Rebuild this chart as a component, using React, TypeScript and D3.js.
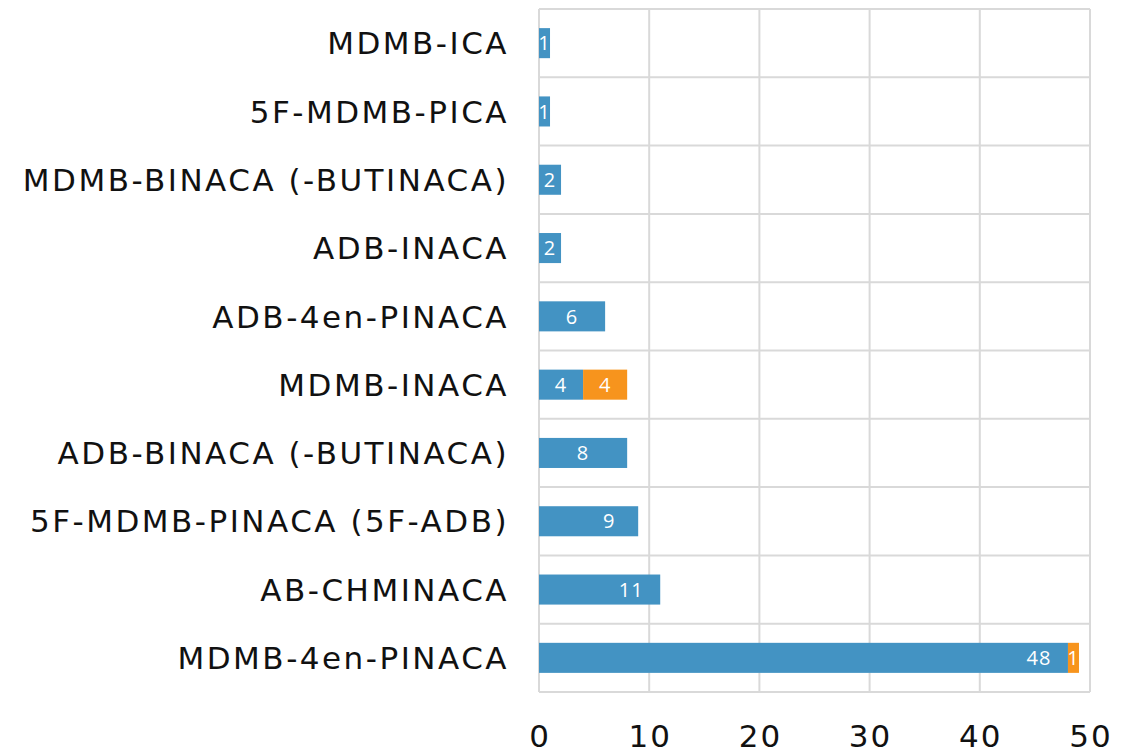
import React, { useRef, useEffect } from 'react';
import * as d3 from 'd3';

const categories = [
  'MDMB-ICA',
  '5F-MDMB-PICA',
  'MDMB-BINACA (-BUTINACA)',
  'ADB-INACA',
  'ADB-4en-PINACA',
  'MDMB-INACA',
  'ADB-BINACA (-BUTINACA)',
  '5F-MDMB-PINACA (5F-ADB)',
  'AB-CHMINACA',
  'MDMB-4en-PINACA',
];
const blueValues = [1, 1, 2, 2, 6, 4, 8, 9, 11, 48];
const orangeValues = [0, 0, 0, 0, 0, 4, 0, 0, 0, 1];
const xTicks = [0, 10, 20, 30, 40, 50];

const width = 1140;
const height = 755;
const labelFont = "'DejaVu Sans', sans-serif";
const valueFont = "'Open Sans', sans-serif";

const App: React.FC = () => {
  const svgRef = useRef<SVGSVGElement | null>(null);

  useEffect(() => {
    const svg = d3.select(svgRef.current);
    svg.selectAll('*').remove();

    const margin = { top: 9, right: 50, bottom: 63, left: 539 };
    const x = d3.scaleLinear().domain([0, 50]).range([margin.left, width - margin.right]);
    const y = d3.scaleBand<string>()
      .domain(categories)
      .range([margin.top, height - margin.bottom])
      .paddingInner(0.56)
      .paddingOuter(0.28);
    const step = y.step();
    const grid = '#d9d9d9';

    const g = svg.append('g');

    // vertical grid
    g.selectAll('line.vg')
      .data(xTicks)
      .enter()
      .append('line')
      .attr('x1', d => x(d))
      .attr('x2', d => x(d))
      .attr('y1', margin.top)
      .attr('y2', height - margin.bottom)
      .attr('stroke', grid)
      .attr('stroke-width', 2);

    // horizontal band lines
    const bounds = d3.range(categories.length + 1).map(i => margin.top + i * step);
    g.selectAll('line.hg')
      .data(bounds)
      .enter()
      .append('line')
      .attr('x1', x(0))
      .attr('x2', x(50))
      .attr('y1', d => d)
      .attr('y2', d => d)
      .attr('stroke', grid)
      .attr('stroke-width', 2);

    // x tick labels
    g.selectAll('text.xt')
      .data(xTicks)
      .enter()
      .append('text')
      .attr('x', d => x(d) + 1)
      .attr('y', 747)
      .attr('text-anchor', 'middle')
      .style('font-family', labelFont)
      .style('font-size', '31px')
      .style('letter-spacing', '2px')
      .style('fill', '#111')
      .text(d => d);

    // category labels
    g.selectAll('text.cat')
      .data(categories)
      .enter()
      .append('text')
      .attr('x', 509)
      .attr('y', d => y(d)! + y.bandwidth() / 2)
      .attr('dy', '0.36em')
      .attr('text-anchor', 'end')
      .style('font-family', labelFont)
      .style('font-size', '31px')
      .style('letter-spacing', '2.5px')
      .style('fill', '#111')
      .text(d => d);

    const rows = categories.map((c, i) => ({ c, b: blueValues[i], o: orangeValues[i] }));

    // blue bars
    g.selectAll('rect.blue')
      .data(rows)
      .enter()
      .append('rect')
      .attr('x', x(0))
      .attr('y', d => y(d.c)!)
      .attr('width', d => x(d.b) - x(0))
      .attr('height', y.bandwidth())
      .attr('fill', '#4393c3');

    // orange bars
    g.selectAll('rect.orange')
      .data(rows.filter(d => d.o > 0))
      .enter()
      .append('rect')
      .attr('x', d => x(d.b))
      .attr('y', d => y(d.c)!)
      .attr('width', d => x(d.b + d.o) - x(d.b))
      .attr('height', y.bandwidth())
      .attr('fill', '#f7941d');

    const labelX = (start: number, v: number) => {
      const x0 = x(start);
      const x1 = x(start + v);
      return v >= 9 ? x1 - 29 : (x0 + x1) / 2;
    };

    const labels = [
      ...rows.map(d => ({ c: d.c, v: d.b, px: labelX(0, d.b) })),
      ...rows.filter(d => d.o > 0).map(d => ({ c: d.c, v: d.o, px: labelX(d.b, d.o) })),
    ];

    g.selectAll('text.val')
      .data(labels)
      .enter()
      .append('text')
      .attr('x', d => d.px)
      .attr('y', d => y(d.c)! + y.bandwidth() / 2)
      .attr('dy', '0.36em')
      .attr('text-anchor', 'middle')
      .style('font-family', valueFont)
      .style('font-size', '20px')
      .style('letter-spacing', '1px')
      .style('fill', '#fff')
      .text(d => d.v);

    return () => {
      svg.selectAll('*').remove();
    };
  }, []);

  return (
    <svg
      ref={svgRef}
      width={width}
      height={height}
      style={{ position: 'absolute', left: 0, top: 0, background: '#fff' }}
    />
  );
};

export default App;
